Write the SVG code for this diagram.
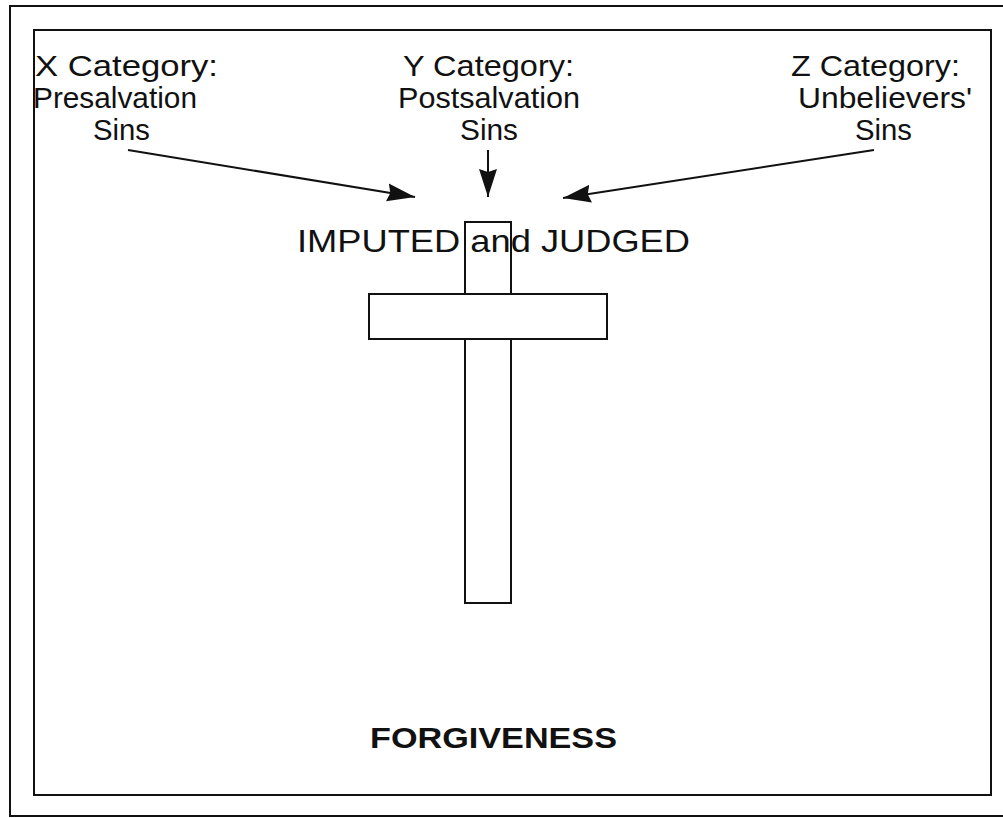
<svg xmlns="http://www.w3.org/2000/svg" width="1003" height="818" viewBox="0 0 1003 818">
<defs>
<style>
.lbl{font-family:"Liberation Sans",Arial,sans-serif;font-size:29px;fill:#111;}
.big{font-family:"Liberation Sans",Arial,sans-serif;font-size:32px;fill:#111;}
.bold{font-family:"Liberation Sans",Arial,sans-serif;font-size:29px;font-weight:bold;fill:#111;}
.frame{fill:none;stroke:#111;stroke-width:2;}
.bar{fill:#fff;stroke:#111;stroke-width:2;}
.conn{stroke:#111;stroke-width:2;fill:none;marker-end:url(#ah);}
</style>
<marker id="ah" viewBox="0 0 28 20" refX="28" refY="10" markerWidth="28" markerHeight="20" markerUnits="userSpaceOnUse" orient="auto">
<path d="M0,1 L28,10 L0,19 L3,10 Z" fill="#111"/>
</marker>
</defs>
<rect width="1003" height="818" fill="#fff"/>
<rect class="frame" x="10" y="6" width="1010" height="810" stroke="#222" stroke-width="2.5"/>
<rect class="frame" x="34" y="30" width="957" height="765"/>

<g id="x-category">
<text class="lbl" x="35" y="76" textLength="183" lengthAdjust="spacingAndGlyphs">X Category:</text>
<text class="lbl" x="33" y="108" textLength="164" lengthAdjust="spacingAndGlyphs">Presalvation</text>
<text class="lbl" x="93" y="140" textLength="57" lengthAdjust="spacingAndGlyphs">Sins</text>
</g>
<g id="y-category">
<text class="lbl" x="403" y="76" textLength="171" lengthAdjust="spacingAndGlyphs">Y Category:</text>
<text class="lbl" x="398" y="108" textLength="182" lengthAdjust="spacingAndGlyphs">Postsalvation</text>
<text class="lbl" x="460" y="140" textLength="58" lengthAdjust="spacingAndGlyphs">Sins</text>
</g>
<g id="z-category">
<text class="lbl" x="791" y="76" textLength="169" lengthAdjust="spacingAndGlyphs">Z Category:</text>
<text class="lbl" x="798" y="108" textLength="174" lengthAdjust="spacingAndGlyphs">Unbelievers'</text>
<text class="lbl" x="855" y="140" textLength="57" lengthAdjust="spacingAndGlyphs">Sins</text>
</g>

<g id="imputed">
<text class="big" x="297" y="252" textLength="393" lengthAdjust="spacingAndGlyphs">IMPUTED and JUDGED</text>
</g>
<g id="cross">
<rect x="465" y="222" width="46" height="381" fill="none" stroke="#111" stroke-width="2"/>
<rect class="bar" x="369" y="294" width="238" height="45"/>
</g>
<g id="forgiveness">
<text class="bold" x="370" y="748" textLength="247" lengthAdjust="spacingAndGlyphs">FORGIVENESS</text>
</g>

<g id="connectors">
<line class="conn" x1="128" y1="150" x2="415" y2="197"/>
<line class="conn" x1="488" y1="150" x2="488" y2="197"/>
<line class="conn" x1="874" y1="150" x2="563" y2="198"/>
</g>
</svg>
